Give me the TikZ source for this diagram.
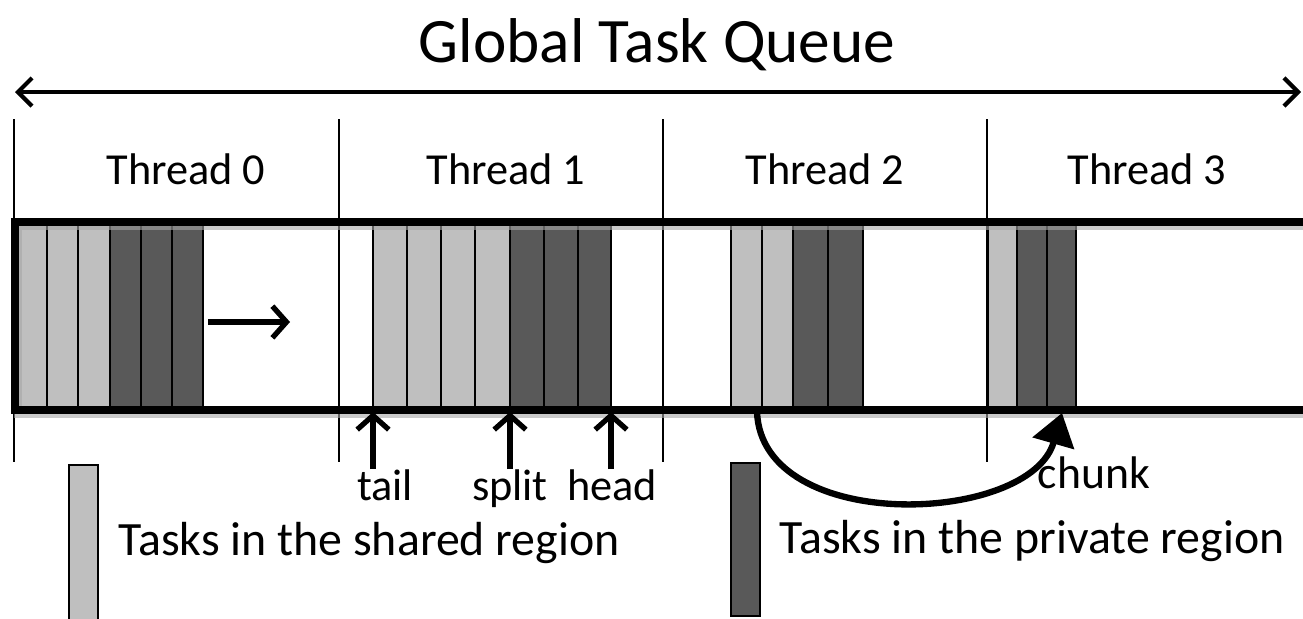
\documentclass[tikz,border=0pt]{standalone}
\usepackage{fontspec}
\setmainfont{Carlito}
\usetikzlibrary{arrows.meta}
\definecolor{sharedgray}{HTML}{BFBFBF}
\definecolor{privategray}{HTML}{595959}
\tikzset{
  shared/.style={fill=sharedgray, draw=black, line width=0.6pt},
  private/.style={fill=privategray, draw=black, line width=0.6pt},
  divider/.style={line width=0.8pt},
  pointer/.style={line width=1.5pt, -{Straight Barb[length=4pt,width=9pt]}},
  lbl/.style={font=\fontsize{12.6}{15}\selectfont, inner sep=0pt, anchor=base},
  legend/.style={font=\fontsize{13.6}{16}\selectfont, inner sep=0pt, anchor=base west},
}
\begin{document}
\begin{tikzpicture}[x=0.01cm, y=-0.01cm]
\useasboundingbox (0,0) rectangle (1303,618);

% title and span of the queue
\node[font=\fontsize{18}{21}\selectfont, inner sep=0pt, anchor=base] (title) at (657,62) {Global Task Queue};
\coordinate (qleft) at (15,92);
\coordinate (qright) at (1301,92);
\draw[line width=1.2pt, {Straight Barb[length=4pt,width=8pt]}-{Straight Barb[length=4pt,width=8pt]}] (qleft) -- (qright);

% thread borders
\foreach \x in {14,339,663,987}
  \draw[divider] (\x,119) -- (\x,462);

\node[lbl] (thread0) at (186,184) {Thread 0};
\node[lbl] (thread1) at (506,184) {Thread 1};
\node[lbl] (thread2) at (825,184) {Thread 2};
\node[lbl] (thread3) at (1147,184) {Thread 3};

% tasks
\foreach \x/\w/\s in {16/31/shared, 47/31/shared, 78/32/shared,
                      110/31/private, 141/31/private, 172/31/private,
                      373/34/shared, 407/34/shared, 441/34/shared, 475/35/shared,
                      510/34/private, 544/34/private, 578/33/private,
                      731/31/shared, 762/31/shared,
                      793/35/private, 828/35/private,
                      988/29/shared, 1017/30/private, 1047/29/private}
  \filldraw[\s] (\x,222) rectangle ++(\w,188);

% queue body (with a soft shadow)
\draw[line width=2.4pt, black!35, opacity=0.6] (18,226) rectangle (1330,414);
\draw[line width=2pt] (15,222) rectangle (1330,410);

% moving direction of thread 0
\coordinate (movefrom) at (208,322);
\coordinate (moveto) at (290,322);
\draw[pointer] (movefrom) -- (moveto);

% pointers of thread 1
\node[lbl] (tail) at (385,500) {tail};
\node[lbl] (split) at (510,500) {split};
\node[lbl] (head) at (612,500) {head};
\coordinate (tailpt) at (373,412);
\coordinate (splitpt) at (510,412);
\coordinate (headpt) at (611,412);
\draw[pointer] (tailpt |- 0,469) -- (tailpt);
\draw[pointer] (splitpt |- 0,469) -- (splitpt);
\draw[pointer] (headpt |- 0,469) -- (headpt);

% stolen chunk
\coordinate (chunkfrom) at (757,412);
\coordinate (chunkto) at (1062,413);
\draw[line width=1.8pt, -{Triangle[length=9pt,width=12pt]}] (chunkfrom) .. controls (762,535) and (1030,525) .. (chunkto);
\node[legend, font=\fontsize{13}{16}\selectfont] (chunk) at (1037,488) {chunk};

% legend
\filldraw[shared] (69,465) rectangle (98,640);
\node[legend] (sharedtxt) at (118,555) {Tasks in the shared region};
\filldraw[private] (731,463) rectangle (760,616);
\node[legend] (privatetxt) at (779,553) {Tasks in the private region};
\end{tikzpicture}
\end{document}
